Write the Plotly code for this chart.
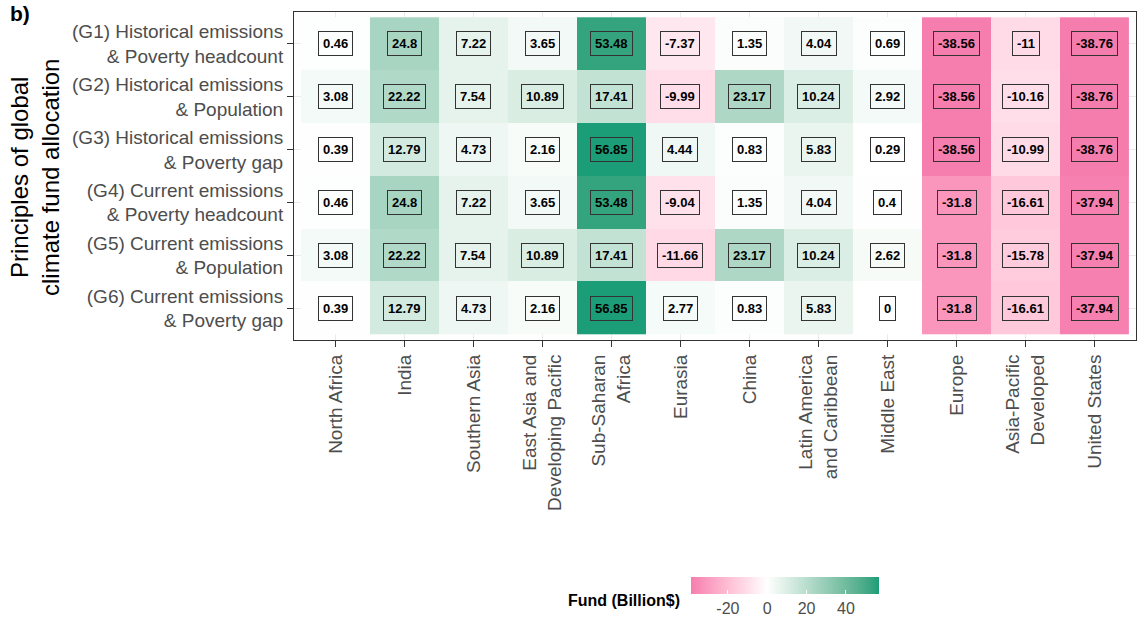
import plotly.graph_objects as go

# Regions (columns) and allocation principles (rows)
regions = [
    "North Africa", "India", "Southern Asia", "East Asia and<br>Developing Pacific",
    "Sub-Saharan<br>Africa", "Eurasia", "China", "Latin America<br>and Caribbean",
    "Middle East", "Europe", "Asia-Pacific<br>Developed", "United States",
]
principles = [
    "(G1) Historical emissions<br>& Poverty headcount",
    "(G2) Historical emissions<br>& Population",
    "(G3) Historical emissions<br>& Poverty gap",
    "(G4) Current emissions<br>& Poverty headcount",
    "(G5) Current emissions<br>& Population",
    "(G6) Current emissions<br>& Poverty gap",
]

# Fund allocation (Billion $) per region, one list per principle
g1 = [0.46, 24.8, 7.22, 3.65, 53.48, -7.37, 1.35, 4.04, 0.69, -38.56, -11, -38.76]
g2 = [3.08, 22.22, 7.54, 10.89, 17.41, -9.99, 23.17, 10.24, 2.92, -38.56, -10.16, -38.76]
g3 = [0.39, 12.79, 4.73, 2.16, 56.85, 4.44, 0.83, 5.83, 0.29, -38.56, -10.99, -38.76]
g4 = [0.46, 24.8, 7.22, 3.65, 53.48, -9.04, 1.35, 4.04, 0.4, -31.8, -16.61, -37.94]
g5 = [3.08, 22.22, 7.54, 10.89, 17.41, -11.66, 23.17, 10.24, 2.62, -31.8, -15.78, -37.94]
g6 = [0.39, 12.79, 4.73, 2.16, 56.85, 2.77, 0.83, 5.83, 0, -31.8, -16.61, -37.94]

colorbar_ticks = [-20, 0, 20, 40]

values = [g1, g2, g3, g4, g5, g6]

# ---- diverging palette (low / white / high), interpolated in CIE Lab ----
LOW, MID, HIGH = (231, 41, 138), (255, 255, 255), (27, 158, 119)


def _lin(c):
    c = c / 255.0
    return c / 12.92 if c <= 0.04045 else ((c + 0.055) / 1.055) ** 2.4


def _gam(c):
    c = 12.92 * c if c <= 0.0031308 else 1.055 * c ** (1 / 2.4) - 0.055
    return max(0, min(255, round(c * 255)))


WX, WY, WZ = 0.95047, 1.0, 1.08883


def rgb_to_lab(rgb):
    r, g, b = (_lin(v) for v in rgb)
    x = (0.4124 * r + 0.3576 * g + 0.1805 * b) / WX
    y = (0.2126 * r + 0.7152 * g + 0.0722 * b) / WY
    z = (0.0193 * r + 0.1192 * g + 0.9505 * b) / WZ

    def f(t):
        return t ** (1 / 3) if t > 0.008856 else 7.787 * t + 16 / 116

    fx, fy, fz = f(x), f(y), f(z)
    return (116 * fy - 16, 500 * (fx - fy), 200 * (fy - fz))


def lab_to_rgb(lab):
    L, a, b = lab
    fy = (L + 16) / 116
    fx = fy + a / 500
    fz = fy - b / 200

    def finv(t):
        return t ** 3 if t ** 3 > 0.008856 else (t - 16 / 116) / 7.787

    x, y, z = finv(fx) * WX, finv(fy) * WY, finv(fz) * WZ
    r = 3.2406 * x - 1.5372 * y - 0.4986 * z
    g = -0.9689 * x + 1.8758 * y + 0.0415 * z
    bl = 0.0557 * x - 0.2040 * y + 1.0570 * z
    return tuple(_gam(max(0.0, v)) for v in (r, g, bl))


LAB = [rgb_to_lab(c) for c in (LOW, MID, HIGH)]


def palette(t):
    if t <= 0.5:
        a, b, s = LAB[0], LAB[1], t / 0.5
    else:
        a, b, s = LAB[1], LAB[2], (t - 0.5) / 0.5
    return lab_to_rgb(tuple(a[i] + (b[i] - a[i]) * s for i in range(3)))


flat = [v for row in values for v in row]
zmin, zmax = min(flat), max(flat)
extent = max(abs(zmin), abs(zmax))

n = 40
stops = sorted(set([i / n for i in range(n + 1)] + [(0 - zmin) / (zmax - zmin)]))
colorscale = []
for f in stops:
    v = zmin + f * (zmax - zmin)
    r, g, b = palette(0.5 + v / (2 * extent))
    colorscale.append([f, f"rgb({r},{g},{b})"])

xi = list(range(len(regions)))
yi = list(range(len(principles)))

FONT = "Liberation Sans, Arial, sans-serif"

# plot area in pixels: x 294..1136, y 12..340
PW, PH = 1136 - 294, 340 - 12


def px_x(p):
    return (p - 294) / PW


def px_y(p):
    return (340 - p) / PH


fig = go.Figure(
    go.Heatmap(
        x=xi,
        y=yi,
        z=values,
        zmin=zmin,
        zmax=zmax,
        colorscale=colorscale,
        hoverinfo="skip",
        colorbar=dict(
            orientation="h",
            xref="paper",
            x=px_x(785),
            xanchor="center",
            yref="paper",
            y=px_y(577),
            yanchor="top",
            lenmode="pixels",
            len=188,
            thickness=17,
            outlinewidth=0,
            xpad=0,
            ypad=0,
            tickvals=colorbar_ticks,
            ticktext=[str(t) for t in colorbar_ticks],
            ticks="inside",
            ticklen=4,
            tickcolor="white",
            tickfont=dict(family=FONT, size=16, color="#4D4D4D"),
        ),
    )
)

# Value labels in boxes
for r, row in enumerate(values):
    for c, v in enumerate(row):
        fig.add_annotation(
            x=c,
            y=r,
            text=f"<b>{v:g}</b>",
            showarrow=False,
            font=dict(family=FONT, size=13, color="black"),
            bgcolor="rgba(0,0,0,0)",
            bordercolor="#333333",
            borderwidth=1,
            borderpad=4,
        )

# Panel tag, axis title and legend title
fig.add_annotation(
    xref="paper", yref="paper", x=px_x(8), y=px_y(13),
    xanchor="left", yanchor="middle", text="<b>b)</b>", showarrow=False,
    font=dict(family=FONT, size=21, color="black"),
)
fig.add_annotation(
    xref="paper", yref="paper", x=px_x(35), y=px_y(178),
    xanchor="center", yanchor="middle", textangle=-90,
    text="Principles of global<br>climate fund allocation", showarrow=False,
    font=dict(family=FONT, size=24, color="black"),
)
fig.add_annotation(
    xref="paper", yref="paper", x=px_x(682), y=px_y(600),
    xanchor="right", yanchor="middle", text="<b>Fund (Billion$)</b>", showarrow=False,
    font=dict(family=FONT, size=16, color="black"),
)

axis_common = dict(
    showline=True,
    linecolor="#333333",
    linewidth=1,
    mirror=True,
    ticks="outside",
    ticklen=6,
    tickcolor="#333333",
    showgrid=True,
    gridcolor="#EBEBEB",
    zeroline=False,
    tickfont=dict(family=FONT, size=19, color="#4D4D4D"),
)

fig.update_xaxes(
    tickvals=xi,
    ticktext=regions,
    range=[-0.6, len(regions) - 0.4],
    tickangle=-90,
    **axis_common,
)
fig.update_yaxes(
    tickvals=yi,
    ticktext=principles,
    range=[len(principles) - 0.4, -0.6],
    **axis_common,
)

fig.update_layout(
    width=1139,
    height=619,
    margin=dict(l=294, r=3, t=12, b=279, autoexpand=False),
    paper_bgcolor="white",
    plot_bgcolor="white",
    font=dict(family=FONT),
)

fig.write_html("out.html")
